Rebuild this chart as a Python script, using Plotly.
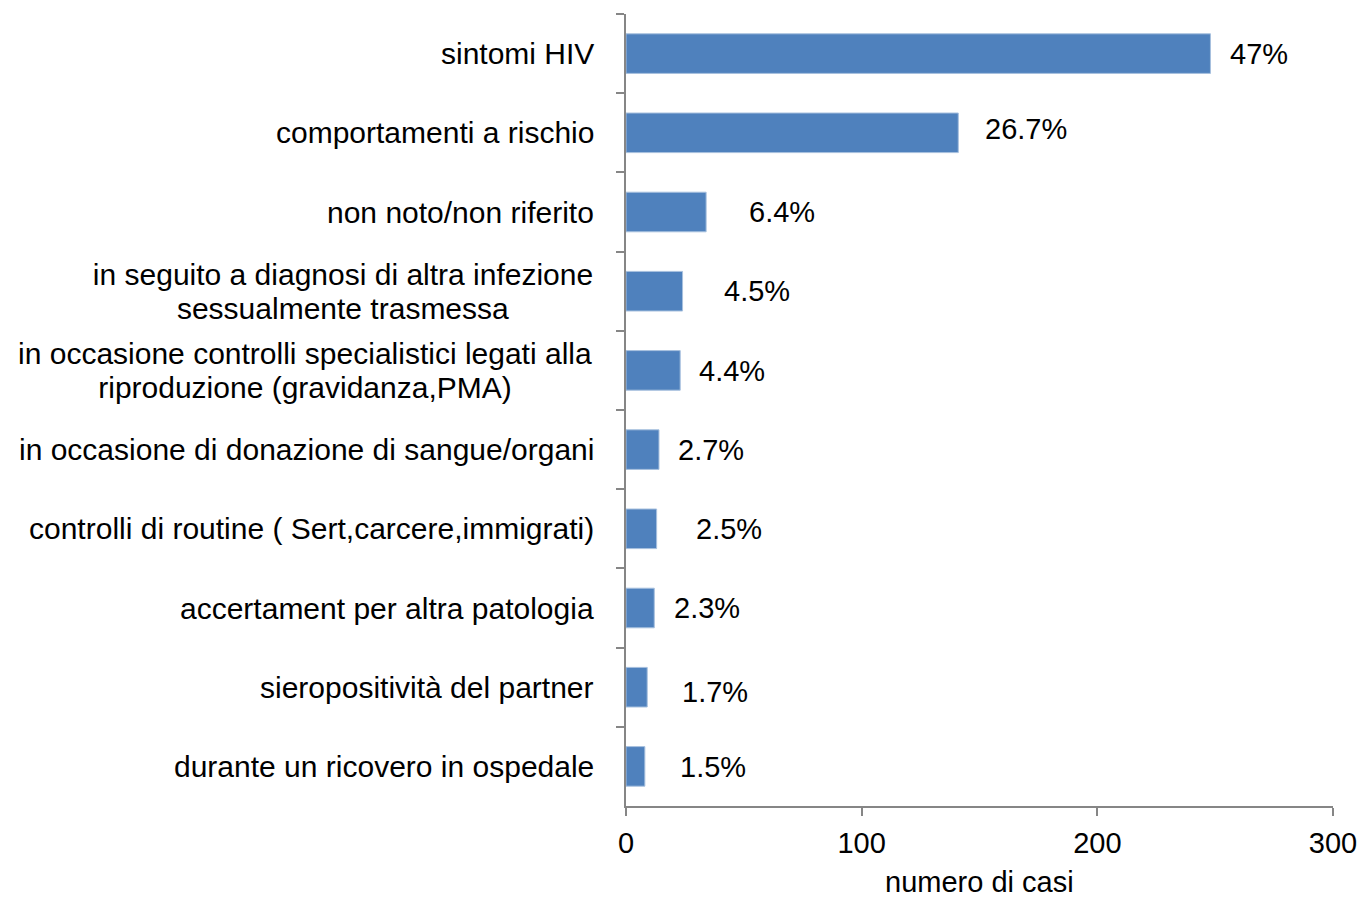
import plotly.graph_objects as go

categories = [
    "sintomi HIV",
    "comportamenti a rischio",
    "non noto/non riferito",
    "in seguito a diagnosi di altra infezione<br>sessualmente trasmessa",
    "in occasione controlli specialistici legati alla<br>riproduzione (gravidanza,PMA)",
    "in occasione di donazione di sangue/organi",
    "controlli di routine ( Sert,carcere,immigrati)",
    "accertament per altra patologia",
    "sieropositività del partner",
    "durante un ricovero in ospedale",
]
values = [248, 141, 34, 24, 23, 14, 13, 12, 9, 8]
pct_labels = ["47%", "26.7%", "6.4%", "4.5%", "4.4%", "2.7%", "2.5%", "2.3%", "1.7%", "1.5%"]
x_ticks = [0, 100, 200, 300]
x_title = "numero di casi"
# style: horizontal gap (px) between bar end and its label, and small vertical nudges, as in the reference
label_gaps = [18, 25, 41, 39, 17, 17, 37, 18, 33, 33]
label_yshift = [0, 4, 0, 0, -1, 0, 0, 0, -5, -1]
# style: width of the text box used to centre the lines of two-line category labels
label_box_width = [None, None, None, 502, 578, None, None, None, None, None]

FONT = "Liberation Sans, Arial, sans-serif"
FS_CAT = 30
FS = 29
LINE_STEP = 17

fig = go.Figure()
fig.add_trace(go.Bar(
    x=values, y=categories, orientation="h",
    marker=dict(color="#4F81BD", line=dict(color="#A7C0DE", width=1)),
    width=0.5,
    hoverinfo="x+y",
))

annotations = []
for cat, v, lab, g, ys, bw in zip(categories, values, pct_labels, label_gaps, label_yshift, label_box_width):
    annotations.append(dict(
        x=v, y=cat, xref="x", yref="y", text=lab, showarrow=False,
        xanchor="left", yanchor="middle", xshift=g, yshift=ys,
        font=dict(family=FONT, size=FS, color="#000000"),
    ))
    lines = cat.split("<br>")
    n = len(lines)
    for i, line in enumerate(lines):
        offset = ((n - 1) / 2 - i) * 2 * LINE_STEP
        a = dict(
            x=0, y=cat, xref="paper", yref="y", text=line, showarrow=False,
            xanchor="right", yanchor="middle", xshift=-30, yshift=offset,
            font=dict(family=FONT, size=FS_CAT, color="#000000"),
        )
        if bw is not None:
            a["width"] = bw
            a["align"] = "center"
        annotations.append(a)

# x-axis title
annotations.append(dict(
    x=0.5, y=0, xref="paper", yref="paper", text=x_title, showarrow=False,
    xanchor="center", yanchor="middle", yshift=-76, borderpad=0,
    font=dict(family=FONT, size=FS, color="#000000"),
))

fig.update_layout(
    width=1362, height=898,
    margin=dict(l=626, r=29, t=14, b=92),
    paper_bgcolor="white", plot_bgcolor="white",
    showlegend=False,
    font=dict(family=FONT, size=FS, color="#000000"),
    annotations=annotations,
    xaxis=dict(
        range=[0, 300], tickvals=x_ticks, ticktext=[str(t) for t in x_ticks],
        showgrid=False, zeroline=False, showline=True, linecolor="#868686", linewidth=1.5,
        ticks="outside", ticklen=8, tickcolor="#868686", tickwidth=1.5,
        ticklabelstandoff=2,
        tickfont=dict(family=FONT, size=FS, color="#000000"),
        automargin=False,
    ),
    yaxis=dict(
        autorange="reversed", showticklabels=False,
        showgrid=False, zeroline=False, showline=True, linecolor="#868686", linewidth=1.5,
        ticks="outside", ticklen=8, tickcolor="#868686", tickwidth=1.5, tickson="boundaries",
        automargin=False,
    ),
)

fig.write_html(
    "out.html",
    config={"displayModeBar": False},
    post_script="document.body.style.margin='0';document.body.style.overflow='hidden';",
)
